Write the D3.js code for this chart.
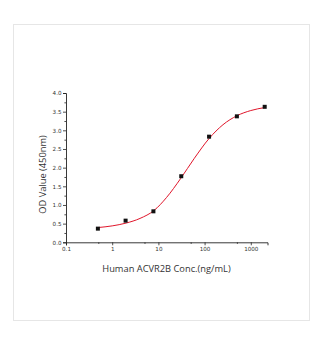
<!DOCTYPE html>
<html>
<head>
<meta charset="utf-8">
<title>ACVR2B ELISA</title>
<script src="https://d3js.org/d3.v7.min.js"></script>
<style>
  body { margin: 0; background: #fff; }
</style>
</head>
<body>
<div id="chart"></div>
<script>
// measured points
let conc = [0.49, 1.95, 7.8, 31.25, 125, 500, 2000];
let od = [0.366, 0.58, 0.83, 1.77, 2.83, 3.375, 3.63];

// fitted curve
let fitConc = [0.49, 1, 2, 4, 8, 15, 30, 60, 125, 250, 500, 1000, 2000];
let fitOd = [0.395, 0.44, 0.515, 0.64, 0.85, 1.2, 1.7, 2.25, 2.78, 3.15, 3.39, 3.53, 3.61];

let xTicks = [0.1, 1, 10, 100, 1000];
let xMinor = [0.5, 5, 50, 500];
let yTicks = [0, 0.5, 1, 1.5, 2, 2.5, 3, 3.5, 4];
let yMinor = [0.25, 0.75, 1.25, 1.75, 2.25, 2.75, 3.25, 3.75];

let W = 333, H = 340;
let svg = d3.select("#chart").append("svg")
    .attr("width", W)
    .attr("height", H);

// outer frame
svg.append("rect")
    .attr("x", 13.5).attr("y", 24.5)
    .attr("width", 296).attr("height", 296)
    .attr("fill", "#fff")
    .attr("stroke", "#e6e6e6");

let x = d3.scaleLog().domain([0.1, 2300]).range([66, 267.5]);
let y = d3.scaleLinear().domain([0, 4]).range([242.3, 93]);

let tickFont = "DejaVu Sans";

// x axis
let gx = svg.append("g").attr("transform", "translate(0,242.3)");
gx.call(d3.axisBottom(x).tickValues(xTicks).tickFormat(d3.format("")).tickSize(3).tickPadding(2));
gx.append("g").call(d3.axisBottom(x).tickValues(xMinor).tickFormat("").tickSize(1.6))
    .select(".domain").remove();

// y axis
let gy = svg.append("g").attr("transform", "translate(66,0)");
gy.call(d3.axisLeft(y).tickValues(yTicks).tickFormat(d3.format(".1f")).tickSize(3).tickPadding(1.5));
gy.append("g").call(d3.axisLeft(y).tickValues(yMinor).tickFormat("").tickSize(1.6))
    .select(".domain").remove();

svg.selectAll(".domain").attr("stroke", "#222").attr("stroke-width", 0.9);
svg.selectAll(".tick line").attr("stroke", "#222").attr("stroke-width", 0.8);
svg.selectAll(".tick text")
    .attr("font-family", tickFont)
    .attr("font-size", "5.6px")
    .attr("fill", "#333");

// fitted curve
let line = d3.line()
    .x(function(d, i) { return x(fitConc[i]); })
    .y(function(d) { return y(d); })
    .curve(d3.curveMonotoneX);

svg.append("path")
    .datum(fitOd)
    .attr("d", line)
    .attr("fill", "none")
    .attr("stroke", "#e0162b")
    .attr("stroke-width", 1);

// points
svg.selectAll("rect.pt")
    .data(od)
    .enter()
    .append("rect")
    .attr("class", "pt")
    .attr("x", function(d, i) { return x(conc[i]) - 2; })
    .attr("y", function(d) { return y(d) - 2; })
    .attr("width", 4)
    .attr("height", 4)
    .attr("fill", "#111");

// axis titles
svg.append("text")
    .attr("x", 166.5)
    .attr("y", 271.5)
    .attr("text-anchor", "middle")
    .attr("font-family", "Open Sans")
    .attr("font-size", "9.3px")
    .attr("fill", "#333")
    .text("Human ACVR2B Conc.(ng/mL)");

svg.append("text")
    .attr("transform", "translate(45.5,174.5) rotate(-90)")
    .attr("text-anchor", "middle")
    .attr("font-family", "Open Sans")
    .attr("font-size", "9.3px")
    .attr("fill", "#333")
    .text("OD Value (450nm)");
</script>
</body>
</html>
